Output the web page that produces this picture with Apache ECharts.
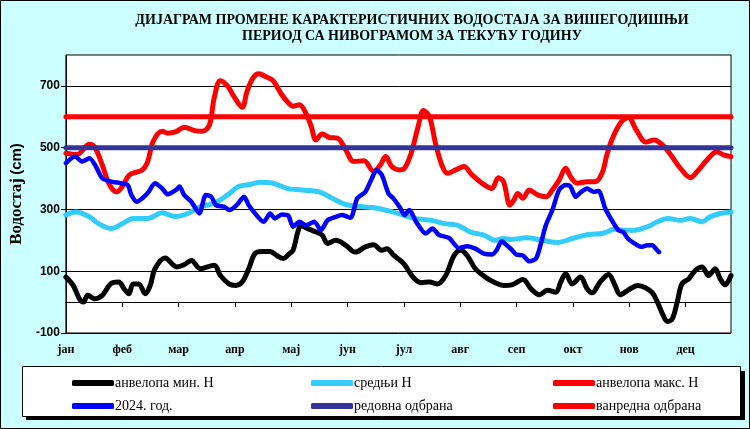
<!DOCTYPE html>
<html>
<head>
<meta charset="utf-8">
<script src="https://cdn.jsdelivr.net/npm/echarts@6/dist/echarts.min.js"></script>
<style>html,body{margin:0;padding:0;background:#ccffff;}#c{width:750px;height:429px;}</style>
</head>
<body>
<div id="c"></div>
<script>
const months = ['јан','феб','мар','апр','мај','јун','јул','авг','сеп','окт','нов','дец'];
const monthStarts = [0,31,62,93,124,155,186,217,248,279,310,341];
const yTicks = [-100,100,300,500,700];
const REDOVNA = 500;
const VANREDNA = 600;

const minEnvelope = [[0,81],[4,54],[7.4,11],[9.6,0],[12,22],[15.6,11],[20,22],[24.6,59],[29,65],[32,43],[34.6,27],[37,59],[40,59],[43.7,27],[46.4,54],[49,108],[54.6,143],[61,114],[65,121],[69,135],[74,108],[81.6,119],[85,86],[89.7,59],[93.4,54],[97,65],[100.6,108],[104,157],[108,164],[112.4,164],[116,151],[119.7,141],[122.4,154],[125,168],[127.6,227],[129.4,247],[133,238],[137.6,227],[141,217],[144,190],[148.5,200],[154,184],[159.3,162],[164.8,179],[169.3,186],[173.8,168],[176.6,173],[180.5,151],[184,135],[186.5,120],[191,81],[195.4,63],[200,65],[204.5,59],[209,86],[213.6,151],[217.2,168],[220.8,151],[225.3,108],[230.8,81],[236.2,63],[240.8,54],[245.3,56],[251.5,73],[256,43],[260.5,24],[265,38],[269.6,32],[272.3,65],[275,92],[278.6,59],[283.2,81],[286.8,43],[289.5,30],[294,65],[298.6,89],[302.2,54],[305,24],[309.2,38],[314.7,54],[319.2,46],[322.8,30],[325.5,0],[328.3,-38],[331,-63],[333.7,-54],[336.4,0],[339,59],[342.8,76],[346.4,103],[350,114],[353.7,86],[357.3,108],[360,76],[362.7,56],[366,86]];

const meanH = [[0,282],[5.6,292],[13,276],[18,254],[25,238],[31,254],[37,271],[45,271],[53,289],[60,277],[67,287],[74,309],[81.6,320],[89,347],[95,374],[101.5,381],[107,388],[114,385],[121.5,368],[130,363],[139.4,357],[146.6,336],[154,316],[163,309],[172,303],[183.5,286],[191.8,271],[201,265],[208,254],[215.3,249],[222.6,227],[230,217],[236.2,200],[240.8,206],[245.3,203],[253.2,208],[262.3,200],[270.5,193],[278.6,206],[287.7,219],[295,222],[302.2,236],[306.7,233],[312.8,233],[320,244],[325.5,260],[331,271],[338.2,265],[343.7,271],[350,260],[354.5,276],[360,287],[366,292]];

const maxEnvelope = [[0,482],[6,478],[13,511],[16,500],[20,444],[24,380],[28,357],[31,374],[35,412],[42,428],[45,455],[48,520],[53,553],[56,547],[61,553],[65,566],[71,555],[75,553],[79,574],[81.6,661],[85,717],[89,699],[92.4,666],[97,631],[99.7,683],[103,726],[106,739],[110.6,728],[114,717],[118.7,672],[122.4,645],[125,634],[128.5,639],[132,612],[135,569],[137.6,525],[141,544],[145,533],[149.4,531],[154,493],[158.4,455],[164,458],[169.3,423],[173,444],[176,471],[179.3,439],[183.5,428],[186.3,433],[190,482],[193.6,563],[196.8,620],[200,601],[203.6,509],[207.2,439],[210,417],[214.5,428],[219,439],[223.5,412],[229,385],[234.4,368],[238,403],[240.8,390],[244.4,314],[246.5,330],[248.7,352],[251.5,336],[255,363],[259.6,347],[264.1,341],[267.7,363],[271.4,395],[275,433],[277.7,406],[281.4,385],[286.8,390],[291.3,390],[295,417],[297.7,477],[300.4,525],[304,569],[306.7,590],[309.5,598],[313.8,558],[319.2,518],[323.7,525],[328.3,509],[332.8,477],[338.2,433],[343.7,403],[347.3,422],[352.8,460],[358.2,487],[361.8,477],[366,471]];

const year2024 = [[0,450],[5,471],[9,455],[13,466],[16.5,439],[20,401],[25,390],[30,385],[34,379],[36,347],[39,325],[43,341],[45.5,357],[49,385],[53,368],[56,349],[61,365],[62.5,374],[65,347],[69,325],[73.4,287],[77,347],[80,341],[82.5,314],[87,309],[90,298],[94,314],[98,341],[100.6,314],[103,295],[108.8,260],[112.4,287],[115,271],[118.8,284],[122.4,280],[125,244],[128.5,260],[132,249],[136.7,260],[140.3,233],[144,265],[148.5,276],[152,282],[156.6,273],[160.3,336],[164.8,357],[168.4,401],[171,428],[173.8,412],[177.5,352],[180.2,336],[184,305],[186.3,282],[189,298],[192.7,260],[198,222],[201.7,238],[205.4,217],[210.8,208],[216.3,175],[220.8,181],[225.3,173],[230,157],[234.4,154],[237,168],[239.8,197],[242.6,184],[245.3,170],[247.8,154],[251.5,151],[255,132],[258.7,141],[261.4,190],[264.1,249],[267.7,298],[271.4,363],[275,379],[277.7,374],[280.5,341],[283.2,355],[286.8,368],[290.4,357],[293.1,360],[296.8,303],[300.4,265],[304,233],[306.7,227],[309.2,206],[312.8,190],[316.5,179],[320,184],[322.8,184],[324.6,173],[326.4,162]];

const X_MIN = 0, X_MAX = 366;
const names = ['анвелопа мин. Н','средњи Н','анвелопа макс. Н','2024. год.','редовна одбрана','ванредна одбрана'];

const chart = echarts.init(document.getElementById('c'), null, {renderer:'canvas'});
const serif = 'Liberation Serif';
const legendBase = {
  orient:'vertical', top:371, itemWidth:42, itemHeight:6, itemGap:9, icon:'roundRect',
  textStyle:{fontFamily:serif, fontSize:14, color:'#000', padding:[0,0,0,-4]}, selectedMode:false
};
function lineSeries(name, data, color, width, smooth, z){
  return {name, type:'line', data, showSymbol:false, symbol:'none', smooth, z,
    lineStyle:{color, width, cap:'round', join:'round'}, itemStyle:{color}};
}
chart.setOption({
  backgroundColor:'#ccffff',
  animation:false,
  title:{text:'ДИЈАГРАМ ПРОМЕНЕ КАРАКТЕРИСТИЧНИХ ВОДОСТАЈА ЗА ВИШЕГОДИШЊИ\nПЕРИОД СА НИВОГРАМОМ ЗА ТЕКУЋУ ГОДИНУ',
    left:407, top:7, textAlign:'center',
    textStyle:{fontFamily:serif, fontWeight:'bold', fontSize:14, lineHeight:16, color:'#000'}},
  graphic:[
    {type:'rect', shape:{x:0.5,y:0.5,width:749,height:428}, style:{fill:null, stroke:'#000', lineWidth:1}, z:-10},
    {type:'rect', shape:{x:26,y:371,width:719,height:49}, style:{fill:'#000'}, z:-5},
    {type:'rect', shape:{x:22.5,y:366.5,width:718,height:50}, style:{fill:'#fff', stroke:'#000', lineWidth:1}, z:-4}
  ],
  legend:[
    Object.assign({}, legendBase, {left:67, data:[names[0], names[3]]}),
    Object.assign({}, legendBase, {left:306, data:[names[1], names[4]]}),
    Object.assign({}, legendBase, {left:548, data:[names[2], names[5]]})
  ],
  grid:{left:58, right:19, top:55, bottom:96, show:true, backgroundColor:'#fff', borderColor:'#000', borderWidth:1},
  xAxis:{type:'value', min:X_MIN, max:X_MAX, interval:31,
    axisLine:{show:true, lineStyle:{color:'#000', width:1}},
    axisTick:{show:true, inside:false, length:5, lineStyle:{color:'#000'}, customValues:monthStarts},
    splitLine:{show:false},
    axisLabel:{customValues:monthStarts, formatter:(v)=>months[monthStarts.indexOf(v)] || '',
      fontFamily:serif, fontWeight:'bold', fontSize:12, color:'#000', margin:11}},
  yAxis:{type:'value', min:-100, max:800, interval:200,
    name:'{a|Водостај} {b|(cm)}', nameLocation:'middle', nameGap:39, nameRotate:90,
    nameTextStyle:{rich:{a:{fontFamily:serif, fontWeight:'bold', fontSize:17, color:'#000'}, b:{fontFamily:'Liberation Sans', fontWeight:'bold', fontSize:15, color:'#000'}}},
    axisLine:{show:true, lineStyle:{color:'#000', width:1}},
    axisTick:{show:true, length:5, lineStyle:{color:'#000'}, customValues:yTicks},
    splitLine:{show:true, lineStyle:{color:'#000', width:1}},
    axisLabel:{customValues:yTicks, fontFamily:'Liberation Sans', fontWeight:'bold', fontSize:12, color:'#000', margin:6}},
  series:[
    lineSeries(names[0], minEnvelope, '#000000', 5, 0.35, 2),
    lineSeries(names[1], meanH, '#33ccff', 5, 0.35, 3),
    lineSeries(names[2], maxEnvelope, '#ff0000', 5, 0.35, 4),
    lineSeries(names[3], year2024, '#0000ff', 4.5, 0.25, 5),
    lineSeries(names[4], [[X_MIN,REDOVNA],[X_MAX,REDOVNA]], '#333399', 5, false, 6),
    lineSeries(names[5], [[X_MIN,VANREDNA],[X_MAX,VANREDNA]], '#ff0000', 5, false, 6)
  ]
});
</script>
</body>
</html>
